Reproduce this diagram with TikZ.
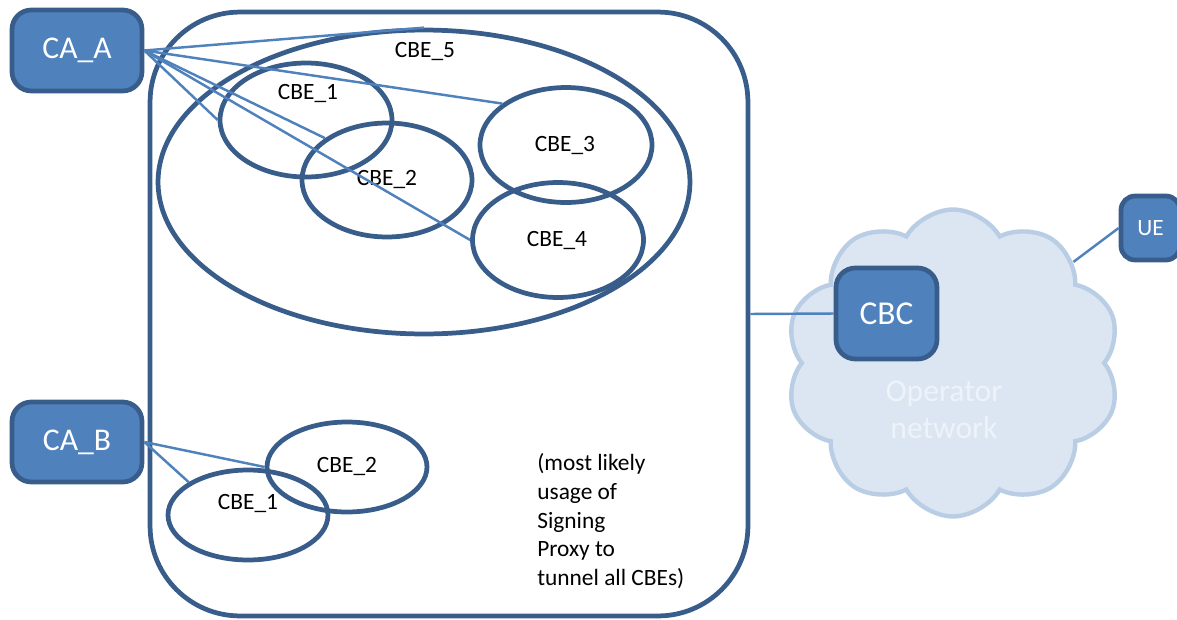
\documentclass[tikz,border=0pt]{standalone}
\usepackage{fontspec}
\setmainfont{Carlito}
\usepackage{tikz}
\usetikzlibrary{shapes.geometric,shapes.symbols}
\definecolor{boxblue}{RGB}{79,129,189}
\definecolor{darkblue}{RGB}{56,93,138}
\definecolor{cloudfill}{RGB}{220,230,242}
\definecolor{cloudedge}{RGB}{185,205,229}
\definecolor{cloudtext}{RGB}{238,243,249}

\begin{document}
\begin{tikzpicture}[x=0.02cm, y=-0.02cm]
    \tikzstyle{entity} = [rectangle, rounded corners=11pt, draw=darkblue, fill=boxblue, line width=2.7pt, text=white, inner sep=0pt]
    \tikzstyle{cbe} = [ellipse, draw=darkblue, line width=2.7pt, inner sep=0pt]
    \tikzstyle{cbelabel} = [anchor=base, inner sep=0pt, font=\fontsize{13.3}{16}\selectfont]
    \tikzstyle{link} = [draw=boxblue, line width=1.4pt]

    \useasboundingbox (0,0) rectangle (1177,619);

    % CA domain
    \node [rectangle, rounded corners=1.8cm, draw=darkblue, line width=2.7pt, minimum width=11.96cm, minimum height=12.08cm] (domain) at (449,314) {};

    % Operator side
    \node [cloud, cloud puffs=10, cloud puff arc=120, aspect=1.08, draw=cloudedge, fill=cloudfill, line width=2.5pt, inner sep=0pt, minimum width=6.7cm, minimum height=6.14cm] (opnet) at (953,363) {};
    \node [align=center, text=cloudtext, font=\fontsize{18}{21}\selectfont] (opnettxt) at (944,410) {Operator\\network};
    \node [entity, minimum width=2.02cm, minimum height=1.82cm, font=\fontsize{19}{23}\selectfont] (cbc) at (886.5,313.5) {CBC};
    \node [entity, rounded corners=8pt, minimum width=1.18cm, minimum height=1.28cm, font=\fontsize{13.3}{16}\selectfont] (ue) at (1150.5,228) {UE};

    % CAs
    \node [entity, minimum width=2.6cm, minimum height=1.62cm, font=\fontsize{18}{22}\selectfont] (caA) at (77,50.5) {CA\_A};
    \node [entity, minimum width=2.6cm, minimum height=1.6cm, font=\fontsize{18}{22}\selectfont] (caB) at (77,442) {CA\_B};

    % CBEs of CA_A
    \node [cbe, minimum width=10.64cm, minimum height=6.08cm] (cbeV) at (424,182) {};
    \node [cbe, minimum width=3.44cm, minimum height=2.28cm] (cbeA) at (306,120) {};
    \node [cbe, minimum width=3.4cm, minimum height=2.28cm] (cbeB) at (387,180) {};
    \node [cbe, minimum width=3.44cm, minimum height=2.3cm] (cbeC) at (566,145) {};
    \node [cbe, minimum width=3.42cm, minimum height=2.3cm] (cbeD) at (558,240) {};
    \node [cbelabel] (cbeVtxt) at (425,57) {CBE\_5};
    \node [cbelabel] (cbeAtxt) at (308,99) {CBE\_1};
    \node [cbelabel] (cbeBtxt) at (387,185) {CBE\_2};
    \node [cbelabel] (cbeCtxt) at (565,151) {CBE\_3};
    \node [cbelabel] (cbeDtxt) at (557,246) {CBE\_4};

    % CBEs of CA_B
    \node [cbe, minimum width=3.2cm, minimum height=1.8cm] (cbeF) at (347,467) {};
    \node [cbe, minimum width=3.2cm, minimum height=1.8cm] (cbeE) at (248,515) {};
    \node [cbelabel] (cbeFtxt) at (347,472) {CBE\_2};
    \node [cbelabel] (cbeEtxt) at (248,509) {CBE\_1};

    \node [anchor=north west, align=left, inner sep=0pt, font=\fontsize{13.3}{16.4}\selectfont] (note) at (537,453) {(most likely\\usage of\\Signing\\Proxy to\\tunnel all CBEs)};

    % Links
    \draw [link] (caA.east) -- (cbeV.north);
    \draw [link] (caA.east) -- (cbeC.147);
    \draw [link] (caA.east) -- (cbeA.west);
    \draw [link] (caA.east) -- (cbeB.146);
    \draw [link] (caA.east) -- (cbeD.west);
    \draw [link] (caB.east) -- (cbeF.west);
    \draw [link] (caB.east) -- (cbeE.151);
    \draw [link] (domain.east) -- (cbc.west);
    \draw [link] (ue.west) -- (opnet.40);
\end{tikzpicture}
\end{document}
